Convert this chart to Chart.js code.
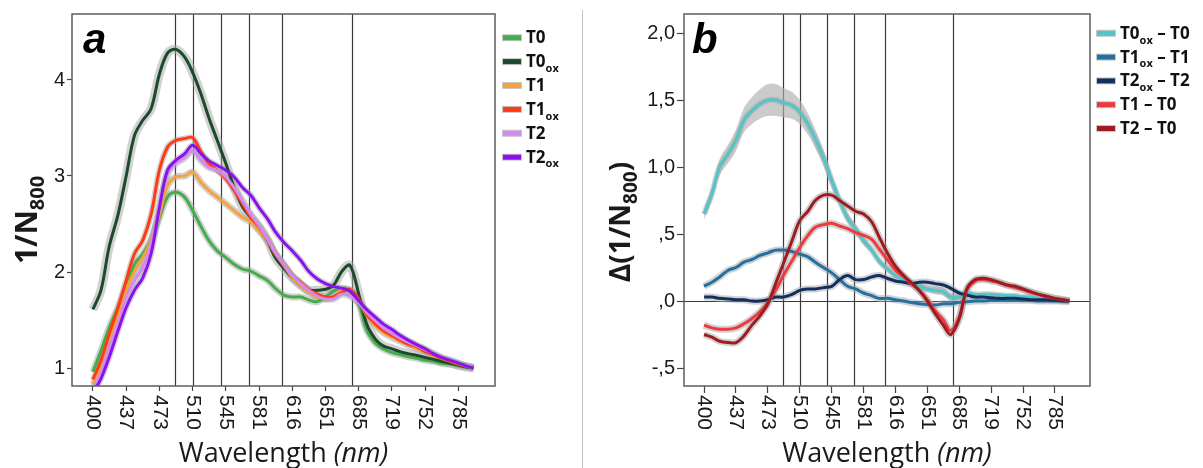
<!DOCTYPE html>
<html>
<head>
<meta charset="utf-8">
<script src="https://cdn.jsdelivr.net/npm/chart.js@4.4.1/dist/chart.umd.min.js"></script>
<style>
  html, body { margin: 0; padding: 0; background: #fff; }
  #wrap { position: relative; width: 1203px; height: 468px; overflow: hidden; }
  #chartA { position: absolute; left: 0; top: 0; }
  #chartB { position: absolute; left: 583px; top: 0; }
  #divider { position: absolute; left: 582px; top: 10px; width: 1px; height: 458px; background: #c4c4c4; }
</style>
</head>
<body>
<div id="wrap">
  <canvas id="chartA" width="582" height="468"></canvas>
  <div id="divider"></div>
  <canvas id="chartB" width="620" height="468"></canvas>
</div>
<script>
// x ticks are evenly spaced (spectrometer channels), labels are in nm
const xTickLabels = [400, 437, 473, 510, 545, 581, 616, 651, 685, 719, 752, 785];
const markerLines = [490, 510, 540, 570, 605, 678];

const wavelength = [400, 409, 418, 428, 437, 446, 455, 464, 473, 482, 491, 501, 510, 519, 527, 536,
  545, 554, 563, 572, 581, 590, 598, 607, 616, 625, 633, 642, 651, 659, 668, 676, 685, 693, 702, 710,
  719, 727, 735, 744, 752, 760, 768, 777, 785, 793, 800];

// panel a : 1/N800
const T0 = [0.96, 1.18, 1.42, 1.63, 1.84, 2.08, 2.19, 2.33, 2.57, 2.78, 2.83, 2.78, 2.64, 2.47, 2.33, 2.22,
  2.15, 2.08, 2.03, 2.01, 1.96, 1.91, 1.83, 1.76, 1.74, 1.74, 1.71, 1.69, 1.74, 1.80, 1.83, 1.80, 1.67, 1.40,
  1.26, 1.20, 1.16, 1.14, 1.12, 1.10, 1.08, 1.07, 1.05, 1.04, 1.02, 1.01, 1.00];
const T0ox = [1.61, 1.81, 2.26, 2.60, 3.00, 3.42, 3.58, 3.70, 4.06, 4.28, 4.32, 4.24, 4.08, 3.85, 3.61, 3.37,
  3.13, 2.88, 2.68, 2.57, 2.47, 2.33, 2.15, 2.04, 1.94, 1.86, 1.81, 1.81, 1.82, 1.86, 2.01, 2.07, 1.77, 1.46,
  1.30, 1.23, 1.20, 1.17, 1.15, 1.13, 1.11, 1.09, 1.07, 1.05, 1.03, 1.01, 1.00];
const T1 = [0.83, 1.01, 1.28, 1.56, 1.81, 2.01, 2.15, 2.33, 2.60, 2.90, 2.99, 3.00, 3.04, 2.93, 2.85, 2.78,
  2.71, 2.64, 2.57, 2.52, 2.43, 2.33, 2.19, 2.07, 1.94, 1.86, 1.79, 1.74, 1.72, 1.74, 1.81, 1.81, 1.70, 1.55,
  1.44, 1.37, 1.32, 1.28, 1.24, 1.20, 1.17, 1.13, 1.10, 1.07, 1.04, 1.02, 1.00];
const T1ox = [0.88, 1.08, 1.35, 1.63, 1.91, 2.19, 2.33, 2.60, 3.06, 3.30, 3.37, 3.39, 3.40, 3.25, 3.13, 3.06,
  2.97, 2.85, 2.71, 2.57, 2.47, 2.33, 2.19, 2.08, 1.96, 1.89, 1.82, 1.77, 1.74, 1.74, 1.79, 1.82, 1.72, 1.56,
  1.46, 1.39, 1.34, 1.29, 1.25, 1.22, 1.17, 1.14, 1.10, 1.07, 1.04, 1.02, 1.00];
const T2 = [0.78, 0.95, 1.22, 1.46, 1.74, 1.91, 2.05, 2.29, 2.67, 3.02, 3.13, 3.19, 3.26, 3.16, 3.09, 3.06,
  2.99, 2.88, 2.74, 2.60, 2.48, 2.34, 2.20, 2.08, 1.96, 1.88, 1.81, 1.75, 1.72, 1.72, 1.77, 1.75, 1.68, 1.58,
  1.49, 1.42, 1.36, 1.31, 1.27, 1.23, 1.19, 1.15, 1.11, 1.08, 1.05, 1.02, 1.00];
const T2ox = [0.74, 0.89, 1.11, 1.39, 1.63, 1.81, 1.94, 2.19, 2.67, 3.06, 3.16, 3.23, 3.32, 3.23, 3.16, 3.11,
  3.06, 2.99, 2.88, 2.80, 2.67, 2.55, 2.42, 2.31, 2.22, 2.12, 2.01, 1.93, 1.88, 1.85, 1.83, 1.80, 1.70, 1.61,
  1.53, 1.46, 1.40, 1.34, 1.29, 1.24, 1.20, 1.15, 1.11, 1.08, 1.05, 1.02, 1.00];

// panel b : differences
const dT0ox = [0.65, 0.80, 1.00, 1.10, 1.20, 1.35, 1.42, 1.47, 1.50, 1.50, 1.48, 1.46, 1.41, 1.32, 1.21, 1.07,
  0.90, 0.75, 0.62, 0.54, 0.45, 0.38, 0.30, 0.24, 0.19, 0.16, 0.13, 0.11, 0.09, 0.08, 0.07, 0.03, 0.03, 0.06,
  0.05, 0.05, 0.05, 0.045, 0.04, 0.04, 0.03, 0.03, 0.02, 0.02, 0.01, 0.005, 0];
const dT0oxErr = [0.04, 0.05, 0.06, 0.07, 0.08, 0.09, 0.10, 0.11, 0.12, 0.12, 0.11, 0.10, 0.09, 0.08, 0.07, 0.06,
  0.05, 0.04, 0.035, 0.03, 0.03, 0.025, 0.025, 0.02, 0.02, 0.02, 0.02, 0.02, 0.025, 0.03, 0.03, 0.03, 0.02, 0.015,
  0.01, 0.01, 0.01, 0.01, 0.01, 0.01, 0.005, 0.005, 0.005, 0.005, 0.005, 0.005, 0.005];
const dT1ox = [0.11, 0.14, 0.18, 0.23, 0.25, 0.29, 0.31, 0.34, 0.36, 0.38, 0.38, 0.37, 0.35, 0.33, 0.29, 0.25,
  0.21, 0.16, 0.11, 0.09, 0.06, 0.04, 0.02, 0.02, 0.01, 0.00, -0.01, -0.02, -0.025, -0.03, -0.02, -0.02, -0.01,
  -0.005, 0.00, 0.00, 0.005, 0.005, 0.005, 0.005, 0.005, 0.005, 0.00, 0.00, 0.00, 0.00, 0.00];
const dT2ox = [0.03, 0.03, 0.02, 0.015, 0.01, 0.01, 0.00, 0.00, 0.01, 0.03, 0.03, 0.05, 0.08, 0.09, 0.09, 0.10,
  0.11, 0.16, 0.19, 0.16, 0.16, 0.18, 0.19, 0.17, 0.15, 0.14, 0.13, 0.14, 0.14, 0.13, 0.12, 0.095, 0.06, 0.045,
  0.03, 0.03, 0.025, 0.02, 0.02, 0.02, 0.015, 0.01, 0.01, 0.01, 0.005, 0.00, 0.00];
const dT1 = [-0.18, -0.20, -0.21, -0.21, -0.20, -0.17, -0.13, -0.08, -0.01, 0.08, 0.19, 0.30, 0.40, 0.49, 0.55,
  0.57, 0.58, 0.56, 0.54, 0.51, 0.49, 0.46, 0.39, 0.31, 0.23, 0.18, 0.13, 0.08, 0.01, -0.07, -0.14, -0.22, -0.12,
  0.08, 0.15, 0.16, 0.15, 0.14, 0.12, 0.10, 0.085, 0.065, 0.05, 0.03, 0.02, 0.01, 0.00];
const dT2 = [-0.25, -0.27, -0.30, -0.31, -0.31, -0.26, -0.18, -0.11, -0.02, 0.13, 0.28, 0.45, 0.60, 0.67, 0.75,
  0.79, 0.79, 0.75, 0.71, 0.67, 0.65, 0.59, 0.48, 0.36, 0.26, 0.19, 0.14, 0.08, 0.00, -0.09, -0.18, -0.25, -0.13,
  0.09, 0.16, 0.17, 0.16, 0.14, 0.12, 0.11, 0.09, 0.07, 0.05, 0.035, 0.02, 0.01, 0.00];

const yTicksA = [1, 2, 3, 4];
const yTickLabelsA = ['1', '2', '3', '4'];
const yTicksB = [-0.5, 0, 0.5, 1, 1.5, 2];
const yTickLabelsB = ['-,5', ',0', ',5', '1,0', '1,5', '2,0'];

const seriesA = [
  { label: 'T0', values: T0, color: '#44ad4b', halo: 7 },
  { label: 'T0_ox', values: T0ox, color: '#1c4a2c', halo: 9 },
  { label: 'T1', values: T1, color: '#f6a23a', halo: 7 },
  { label: 'T1_ox', values: T1ox, color: '#ff3b14', halo: 6 },
  { label: 'T2', values: T2, color: '#d38af0', halo: 7 },
  { label: 'T2_ox', values: T2ox, color: '#8a12ef', halo: 6 }
];
const seriesB = [
  { label: 'T0_ox – T0', values: dT0ox, err: dT0oxErr, color: '#52c5c8', halo: 6 },
  { label: 'T1_ox – T1', values: dT1ox, color: '#2470a0', halo: 7 },
  { label: 'T2_ox – T2', values: dT2ox, color: '#10305f', halo: 7 },
  { label: 'T1 – T0', values: dT1, color: '#ec3a40', halo: 7 },
  { label: 'T2 – T0', values: dT2, color: '#9e1b20', halo: 7 }
];

function nmToPos(nm) {
  const t = xTickLabels;
  let i = 0;
  while (i < t.length - 2 && nm > t[i + 1]) i++;
  return i + (nm - t[i]) / (t[i + 1] - t[i]);
}
const pts = vals => wavelength.map((w, i) => ({ x: nmToPos(w), y: vals[i] }));

const FONT = '"Open Sans", "DejaVu Sans", sans-serif';
const TICKFONT = '"Liberation Sans", Arial, sans-serif';

function drawRich(ctx, parts, x, y, align) {
  let w = 0;
  parts.forEach(p => { ctx.font = p.font; p.w = ctx.measureText(p.t).width; w += p.w; });
  let cx = align === 'center' ? x - w / 2 : x;
  parts.forEach(p => { ctx.font = p.font; ctx.fillText(p.t, cx, y + (p.dy || 0)); cx += p.w; });
}

function richLabel(name, size) {
  const parts = [];
  name.split(/(_\w+)/).forEach(s => {
    if (!s) return;
    if (s[0] === '_') parts.push({ t: s.slice(1), font: 'bold ' + Math.round(size * 0.65) + 'px ' + FONT, dy: size * 0.28 });
    else parts.push({ t: s, font: 'bold ' + size + 'px ' + FONT });
  });
  return parts;
}

function makeDecor(cfg) {
  return {
    id: 'decor',
    beforeDatasetsDraw(chart) {
      const { ctx, chartArea: a, scales: { x, y } } = chart;
      ctx.save();
      ctx.strokeStyle = '#3a3a3a';
      ctx.lineWidth = 1.2;
      markerLines.forEach(nm => {
        const px = Math.round(x.getPixelForValue(nmToPos(nm))) + 0.5;
        ctx.beginPath(); ctx.moveTo(px, a.top); ctx.lineTo(px, a.bottom); ctx.stroke();
      });
      if (cfg.zeroLine) {
        const py = Math.round(y.getPixelForValue(0)) + 0.5;
        ctx.beginPath(); ctx.moveTo(a.left, py); ctx.lineTo(a.right, py); ctx.stroke();
      }
      ctx.restore();
    },
    afterDraw(chart) {
      const { ctx, chartArea: a, scales: { x, y } } = chart;
      ctx.save();
      // frame
      ctx.strokeStyle = '#5e5e5e';
      ctx.lineWidth = 1.5;
      ctx.strokeRect(a.left, a.top, a.right - a.left, a.bottom - a.top);

      ctx.fillStyle = '#1a1a1a';
      // y tick labels
      ctx.font = '20px ' + TICKFONT;
      ctx.textAlign = 'right';
      ctx.textBaseline = 'middle';
      cfg.yTicks.forEach((v, i) => {
        ctx.fillText(cfg.yLabels[i], a.left - cfg.tickLen - 2, y.getPixelForValue(v));
      });

      // rotated x tick labels (top to bottom)
      ctx.font = '21px ' + TICKFONT;
      ctx.textAlign = 'left';
      xTickLabels.forEach((lab, i) => {
        ctx.save();
        ctx.translate(x.getPixelForValue(i), a.bottom + 9);
        ctx.rotate(Math.PI / 2);
        ctx.fillText(String(lab), 0, 0);
        ctx.restore();
      });

      ctx.textBaseline = 'alphabetic';
      // x title
      drawRich(ctx, [
        { t: 'Wavelength ', font: '27px ' + FONT },
        { t: '(nm)', font: 'italic 27px ' + FONT }
      ], (a.left + a.right) / 2, 462, 'center');

      // y title
      ctx.save();
      ctx.translate(cfg.yTitleX, cfg.yTitleY);
      ctx.rotate(-Math.PI / 2);
      drawRich(ctx, cfg.yTitle, 0, 0, 'center');
      ctx.restore();

      // panel letter
      ctx.font = 'bold italic 42px ' + TICKFONT;
      ctx.fillStyle = '#000';
      ctx.fillText(cfg.letter, cfg.letterX, 53);

      // legend
      cfg.series.forEach((s, i) => {
        const ly = cfg.legendY + i * cfg.legendStep;
        ctx.fillStyle = 'rgba(175,175,175,0.7)';
        ctx.fillRect(cfg.legendX - 1, ly - 3.5, 20, 7);
        ctx.fillStyle = s.color;
        ctx.fillRect(cfg.legendX, ly - 2.5, 18, 5);
        ctx.fillStyle = '#111';
        drawRich(ctx, richLabel(s.label, 17), cfg.legendX + 23, ly + 5.5, 'left');
      });
      ctx.restore();
    }
  };
}

function buildDatasets(series) {
  const ds = [];
  series.forEach((s, i) => {
    ds.push({
      data: pts(s.values), borderColor: s.color, borderWidth: 3,
      order: series.length - i
    });
    ds.push({
      data: pts(s.values), borderColor: 'rgba(165,165,165,0.5)', borderWidth: s.halo,
      order: 20
    });
    if (s.err) {
      ds.push({
        data: pts(s.values.map((v, k) => v + s.err[k])), borderWidth: 0, borderColor: 'rgba(0,0,0,0)',
        backgroundColor: 'rgba(175,175,175,0.65)', fill: '+1', order: 30
      });
      ds.push({
        data: pts(s.values.map((v, k) => v - s.err[k])), borderWidth: 0, borderColor: 'rgba(0,0,0,0)',
        fill: false, order: 30
      });
    }
  });
  return ds;
}

function makeChart(id, series, cfg) {
  const gridOpts = { drawOnChartArea: false, drawTicks: true, tickLength: cfg.tickLen, tickColor: '#444', tickWidth: 1.2 };
  return new Chart(document.getElementById(id), {
    type: 'line',
    data: { datasets: buildDatasets(series) },
    options: {
      responsive: false,
      animation: false,
      events: [],
      layout: { padding: { left: 0, top: 14, right: cfg.padRight, bottom: 0 } },
      elements: { line: { tension: 0.35 }, point: { radius: 0 } },
      plugins: { legend: { display: false }, tooltip: { enabled: false } },
      scales: {
        x: {
          type: 'linear', min: -0.63, max: 12.1,
          afterBuildTicks: s => { s.ticks = xTickLabels.map((_, i) => ({ value: i })); },
          ticks: { display: false },
          grid: gridOpts,
          border: { display: false },
          afterFit: s => { s.height = 82; }
        },
        y: {
          type: 'linear', min: cfg.yMin, max: cfg.yMax,
          afterBuildTicks: s => { s.ticks = cfg.yTicks.map(v => ({ value: v })); },
          ticks: { display: false },
          grid: gridOpts,
          border: { display: false },
          afterFit: s => { s.width = cfg.yWidth; }
        }
      }
    },
    plugins: [makeDecor(cfg)]
  });
}

makeChart('chartA', seriesA, {
  padRight: 87, yWidth: 72, yMin: 0.8125, yMax: 4.6875, tickLen: 5,
  yTicks: yTicksA, yLabels: yTickLabelsA,
  yTitle: [
    { t: '1/N', font: 'bold 30px ' + FONT },
    { t: '800', font: 'bold 20px ' + FONT, dy: 7 }
  ],
  yTitleX: 37, yTitleY: 220,
  letter: 'a', letterX: 83,
  series: seriesA, legendX: 503, legendY: 37.7, legendStep: 23.9,
  zeroLine: false
});

makeChart('chartB', seriesB, {
  padRight: 113, yWidth: 101, yMin: -0.634, yMax: 2.142, tickLen: 7,
  yTicks: yTicksB, yLabels: yTickLabelsB,
  yTitle: [
    { t: 'Δ(1/N', font: 'bold 28px ' + FONT },
    { t: '800', font: 'bold 19px ' + FONT, dy: 7 },
    { t: ')', font: 'bold 28px ' + FONT }
  ],
  yTitleX: 47, yTitleY: 222,
  letter: 'b', letterX: 109,
  series: seriesB, legendX: 514, legendY: 33.3, legendStep: 23.8,
  zeroLine: true
});
</script>
</body>
</html>
